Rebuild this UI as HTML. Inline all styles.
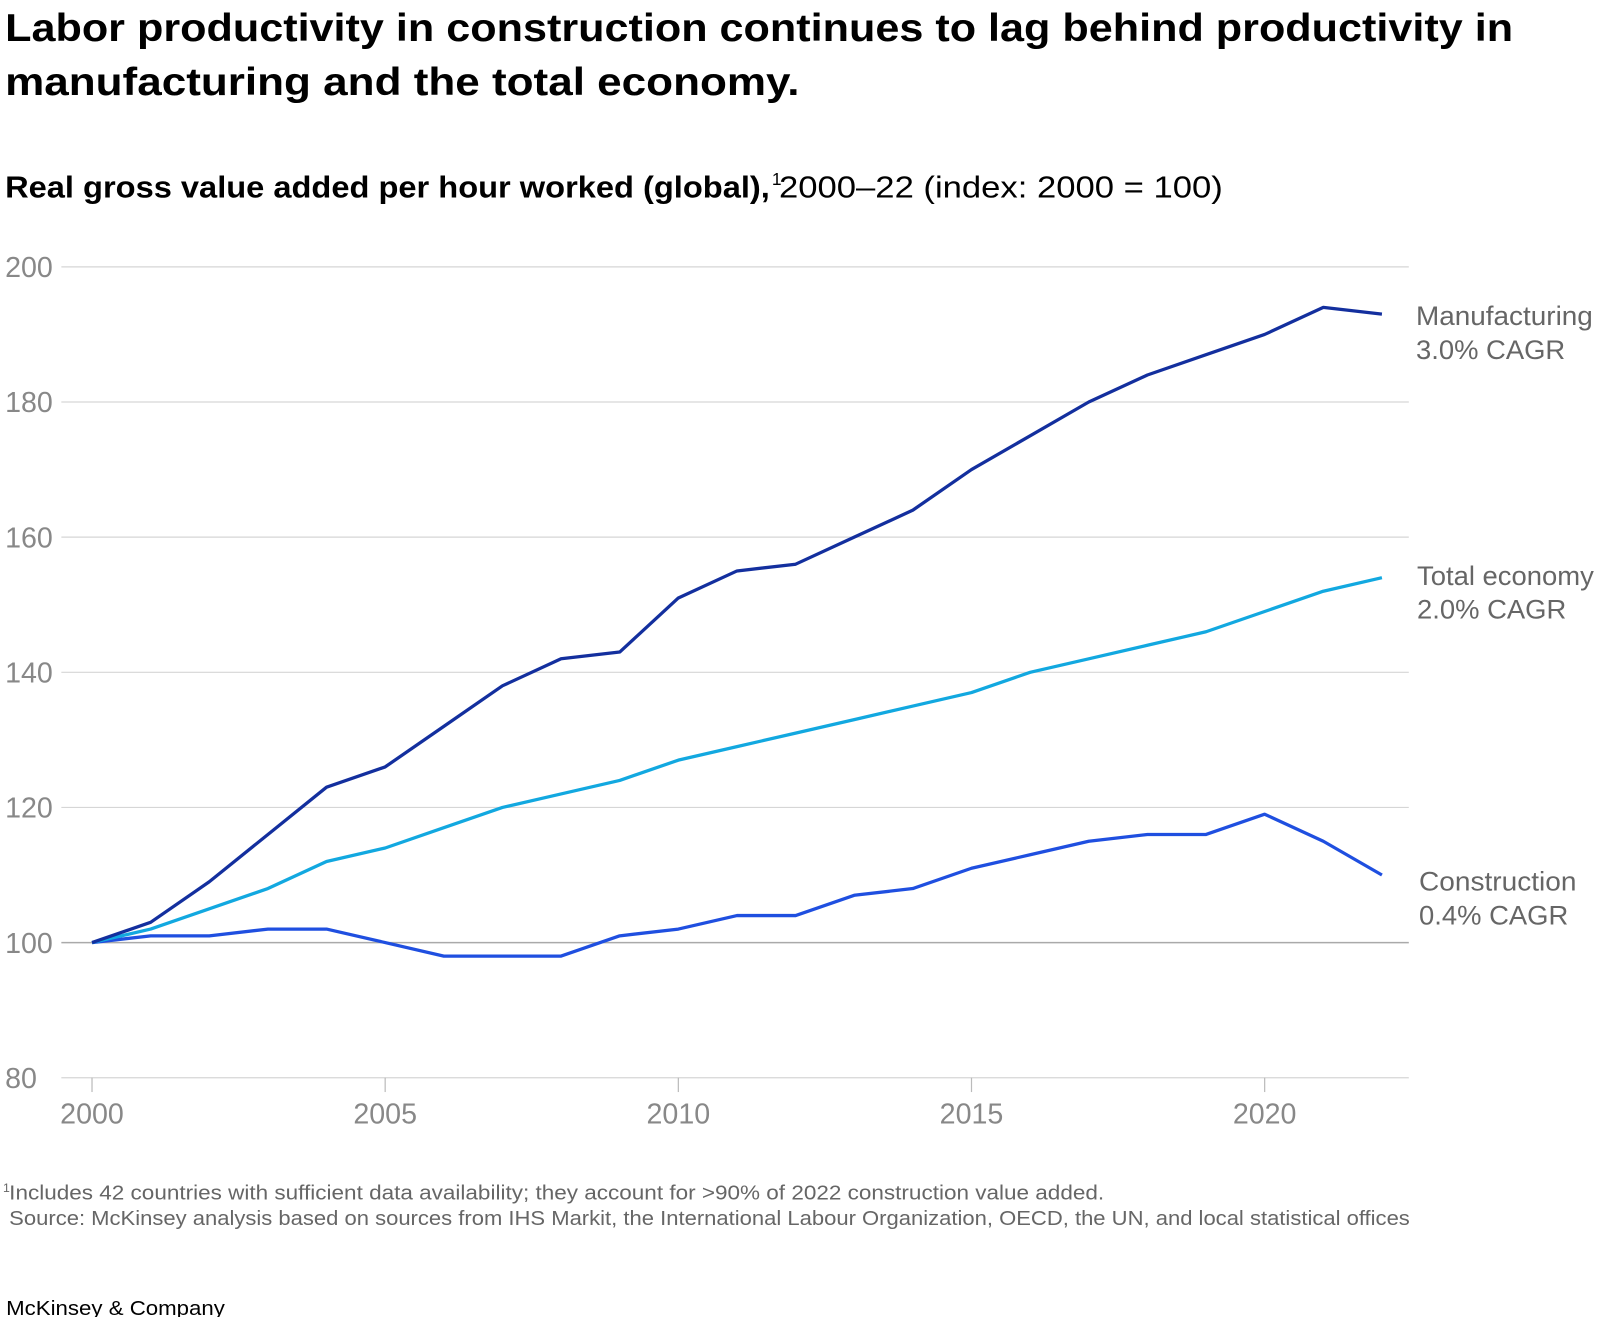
<!DOCTYPE html>
<html><head><meta charset="utf-8">
<style>
html,body{margin:0;padding:0;background:#fff;}
svg{display:block;font-family:"Liberation Sans",sans-serif;}
</style></head>
<body>
<svg id="chart" width="1600" height="1317" viewBox="0 0 1565 1288" preserveAspectRatio="none" xmlns="http://www.w3.org/2000/svg">
  <text x="5" y="40" font-size="38" font-weight="bold" fill="#000" textLength="1475" lengthAdjust="spacingAndGlyphs">Labor productivity in construction continues to lag behind productivity in</text>
  <text x="5" y="93" font-size="38" font-weight="bold" fill="#000" textLength="777" lengthAdjust="spacingAndGlyphs">manufacturing and the total economy.</text>
  <text y="193" font-size="30" fill="#000"><tspan x="5" font-weight="bold" textLength="748" lengthAdjust="spacingAndGlyphs">Real gross value added per hour worked (global),</tspan><tspan x="755" font-size="17" dy="-12">1</tspan><tspan x="762" dy="12" textLength="434" lengthAdjust="spacingAndGlyphs">2000–22 (index: 2000 = 100)</tspan></text>
  <g id="grid"></g>
  <g id="axes"></g>
  <g id="lines"></g>
  <g font-size="26" fill="#666">
    <text x="1385" y="318" textLength="173" lengthAdjust="spacingAndGlyphs">Manufacturing</text>
    <text x="1385" y="351" textLength="146" lengthAdjust="spacingAndGlyphs">3.0% CAGR</text>
    <text x="1386" y="572" textLength="173" lengthAdjust="spacingAndGlyphs">Total economy</text>
    <text x="1386" y="605" textLength="146" lengthAdjust="spacingAndGlyphs">2.0% CAGR</text>
    <text x="1388" y="871" textLength="154" lengthAdjust="spacingAndGlyphs">Construction</text>
    <text x="1388" y="904" textLength="146" lengthAdjust="spacingAndGlyphs">0.4% CAGR</text>
  </g>
  <text y="1173" font-size="20" fill="#666"><tspan x="3" font-size="12" dy="-7">1</tspan><tspan x="9" dy="7" textLength="1071" lengthAdjust="spacingAndGlyphs">Includes 42 countries with sufficient data availability; they account for &gt;90% of 2022 construction value added.</tspan></text>
  <text x="9" y="1198" font-size="20" fill="#666" textLength="1370" lengthAdjust="spacingAndGlyphs">Source: McKinsey analysis based on sources from IHS Markit, the International Labour Organization, OECD, the UN, and local statistical offices</text>
  <text x="6" y="1286" font-size="20" fill="#000" textLength="214" lengthAdjust="spacingAndGlyphs">McKinsey &amp; Company</text>
</svg>
<script>
const years = [2000,2001,2002,2003,2004,2005,2006,2007,2008,2009,2010,2011,2012,2013,2014,2015,2016,2017,2018,2019,2020,2021,2022];
const manufacturing = [100,103,109,116,123,126,132,138,142,143,151,155,156,160,164,170,175,180,184,187,190,194,193];
const totalEconomy = [100,102,105,108,112,114,117,120,122,124,127,129,131,133,135,137,140,142,144,146,149,152,154];
const construction = [100,101,101,102,102,100,98,98,98,101,102,104,104,107,108,111,113,115,116,116,119,115,110];
const yTicks = [80,100,120,140,160,180,200];
const xTicks = [2000,2005,2010,2015,2020];

const NS = "http://www.w3.org/2000/svg";
const x = yr => 90 + (yr - 2000) * (1237 - 90) / 20;
const y = v => 1054 - (v - 80) * (1054 - 261) / 120;
function mk(tag, attrs, parent){ const e=document.createElementNS(NS,tag); for(const k in attrs) e.setAttribute(k,attrs[k]); parent.appendChild(e); return e; }

const grid = document.getElementById('grid');
const axes = document.getElementById('axes');
yTicks.forEach(t => {
  const l = mk('line',{x1:60,x2:1378,y1:y(t),y2:y(t),stroke:t===100?'#aaa':'#d6d6d6','stroke-width':t===100?1.5:1.2},grid);
  
  
  const tx = mk('text',{x:5,y:y(t)+10,'font-size':28,fill:'#888'},axes);
  tx.textContent = t;
  
  
});
xTicks.forEach(t => {
  const l = mk('line',{x1:x(t),x2:x(t),y1:1054,y2:1068,stroke:'#bbb','stroke-width':1.2},axes);
  
  
  const tx = mk('text',{x:x(t),y:1099,'font-size':28,fill:'#888','text-anchor':'middle'},axes);
  tx.textContent = t;
  
  
});
const lines = document.getElementById('lines');
[[construction,'#1f4fe0','construction-line'],[totalEconomy,'#12a8e0','total-economy-line'],[manufacturing,'#132f9e','manufacturing-line']].forEach(([s,c,n]) => {
  const p = mk('polyline',{points:s.map((v,i)=>x(years[i])+','+y(v)).join(' '),fill:'none',stroke:c,'stroke-width':3.2,'stroke-linejoin':'round'},lines);
  
  
});
</script>
</body></html>
